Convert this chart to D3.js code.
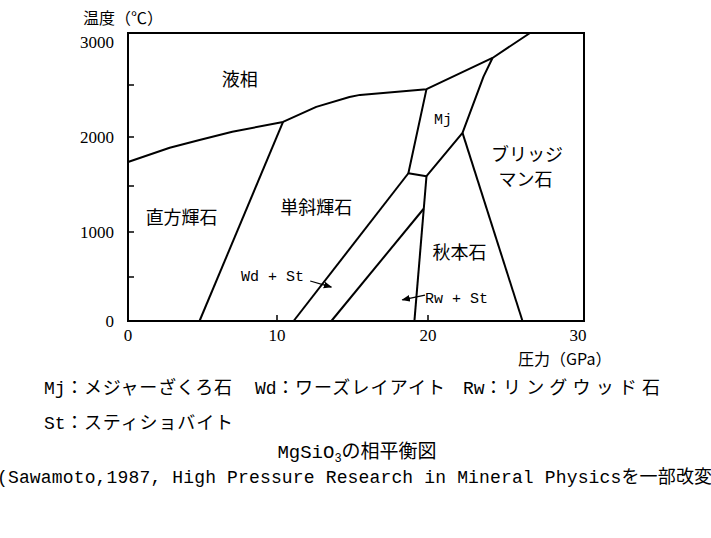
<!DOCTYPE html>
<html>
<head>
<meta charset="utf-8">
<script src="https://cdn.jsdelivr.net/npm/d3@7/dist/d3.min.js"></script>
<style>
  body { margin: 0; background: #fff; }
  .jp   { font-family: "Noto Sans CJK JP", sans-serif; }
  .num  { font-family: "Liberation Serif", serif; }
  .mono { font-family: "Liberation Mono", "Noto Sans CJK JP", monospace; }
</style>
</head>
<body>
<div id="chart"></div>
<script>

/******************************************************************************/
/*  Data (pressure GPa, temperature C)                                        */
/******************************************************************************/

var xTicks  = [0, 10, 20, 30];
var yTicks  = [0, 1000, 2000, 3000];
var yMinor  = [500, 1500, 2500];

// phase boundaries
var liquidus    = [[0,1745],[2.8,1890],[4.8,1970],[7.0,2050],[10.4,2145],[12.6,2290],
                   [14.8,2385],[15.5,2405],[19.9,2460],[24.3,2760],[26.8,3000]];
var opxCpx      = [[10.4,2145],[4.8,0]];
var mjLeft      = [[19.9,2460],[18.7,1630],[19.9,1600],[22.3,2040],[23.7,2580],[24.3,2760]];
var cpxWdSt     = [[18.7,1630],[11.1,0]];
var wdStRwSt    = [[19.7,1250],[13.6,0]];
var rwStAki     = [[19.9,1600],[19.1,0]];
var akiBrg      = [[22.3,2040],[26.3,0]];
var boundaries  = [liquidus, opxCpx, mjLeft, cpxWdSt, wdStRwSt, rwStAki, akiBrg];

// field labels
var fieldNames  = ['液相', 'Mj', 'ブリッジ', 'マン石', '直方輝石', '単斜輝石', '秋本石', 'Wd + St', 'Rw + St'];
var fieldPos    = [[7.5,2550],[21.0,2180],[26.6,1815],[26.5,1560],[3.6,1150],[12.6,1260],[22.1,765],[9.7,520],[21.9,270]];

// arrows
var arrows      = [ [[12.2,455],[13.6,385]], [[19.8,295],[18.3,240]] ];

var legendKeys  = ['Mj：', 'Wd：', 'Rw：', 'St：'];
var legendDesc  = ['メジャーざくろ石', 'ワーズレイアイト', 'リングウッド石', 'スティショバイト'];
var title       = 'MgSiO';
var caption     = '(Sawamoto,1987, High Pressure Research in Mineral Physicsを一部改変)';


/******************************************************************************/
/*  Chart                                                                     */
/******************************************************************************/

var svg = d3.select('#chart')
  .append('svg')
    .attr('width',  711)
    .attr('height', 538)

var x = d3.scaleLinear().domain([0, 10, 20, 30]).range([128, 277, 428, 578]);
var y = d3.scaleLinear().domain([0, 500, 1000, 1500, 2000, 2500, 3000])
                        .range([321, 277, 232, 186, 137, 85, 33]);

var line = d3.line().x(function(d){ return x(d[0]); }).y(function(d){ return y(d[1]); });

svg.append('defs').append('marker')
    .attr('id', 'head')
    .attr('viewBox', '0 0 10 10')
    .attr('refX', 9).attr('refY', 5)
    .attr('markerWidth', 7).attr('markerHeight', 7)
    .attr('orient', 'auto')
  .append('path')
    .attr('d', 'M0,1 L10,5 L0,9 Z')
    .attr('fill', '#000')

// Frame
svg.append('rect')
    .attr('x', 128).attr('y', 33)
    .attr('width', 584 - 128).attr('height', 321 - 33)
    .attr('fill', 'none').attr('stroke', '#000').attr('stroke-width', 2)

// Inward ticks
svg.selectAll('.ytick').data(yMinor.concat([1000, 2000]))
  .enter().append('line')
    .attr('x1', x(0)).attr('x2', x(0) + 6)
    .attr('y1', function(d){ return y(d); }).attr('y2', function(d){ return y(d); })
    .attr('stroke', '#000').attr('stroke-width', 1.5)

svg.selectAll('.xtick').data([10, 20])
  .enter().append('line')
    .attr('x1', function(d){ return x(d); }).attr('x2', function(d){ return x(d); })
    .attr('y1', y(0)).attr('y2', y(0) - 6)
    .attr('stroke', '#000').attr('stroke-width', 1.5)

// Tick labels
svg.selectAll('.ylab').data(yTicks)
  .enter().append('text')
    .attr('class', 'num')
    .attr('x', 114)
    .attr('y', function(d){ return d == 3000 ? 48 : y(d) + 6; })
    .attr('text-anchor', 'end')
    .attr('font-size', 17)
    .text(function(d){ return d; })

svg.selectAll('.xlab').data(xTicks)
  .enter().append('text')
    .attr('class', 'num')
    .attr('x', function(d){ return x(d); })
    .attr('y', 341)
    .attr('text-anchor', 'middle')
    .attr('font-size', 17)
    .text(function(d){ return d; })

// Axis titles
svg.append('text').attr('class', 'jp')
    .attr('x', 83).attr('y', 24).attr('font-size', 16)
    .text('温度（℃）')

svg.append('text').attr('class', 'jp')
    .attr('x', 518).attr('y', 365).attr('font-size', 16)
    .text('圧力（GPa）')

// Boundaries
svg.selectAll('.bnd').data(boundaries)
  .enter().append('path')
    .attr('d', line)
    .attr('fill', 'none')
    .attr('stroke', '#000')
    .attr('stroke-width', 2)
    .attr('stroke-linejoin', 'round')

// Arrows
svg.selectAll('.arr').data(arrows)
  .enter().append('path')
    .attr('d', line)
    .attr('fill', 'none')
    .attr('stroke', '#000')
    .attr('stroke-width', 1.2)
    .attr('marker-end', 'url(#head)')

// Field labels
svg.selectAll('.field').data(fieldNames)
  .enter().append('text')
    .attr('class', function(d){ return /^[A-Z]/.test(d) ? 'mono' : 'jp'; })
    .attr('x', function(d, i){ return x(fieldPos[i][0]); })
    .attr('y', function(d, i){ return y(fieldPos[i][1]) + 6; })
    .attr('text-anchor', 'middle')
    .attr('font-size', function(d){ return /^[A-Z]/.test(d) ? 15 : 18; })
    .text(function(d){ return d; })

// Legend: key then description
var legX   = [44, 255, 463, 44],
    legY   = [394, 394, 394, 429],
    legEnd = [232, 445, 660, 233];

svg.selectAll('.legkey').data(legendKeys)
  .enter().append('text')
    .attr('class', 'mono')
    .attr('x', function(d, i){ return legX[i]; })
    .attr('y', function(d, i){ return legY[i]; })
    .attr('font-size', 18)
    .text(function(d){ return d; })

svg.selectAll('.legdesc').data(legendDesc)
  .enter().append('text')
    .attr('class', 'jp')
    .attr('x', function(d, i){ return legX[i] + 40; })
    .attr('y', function(d, i){ return legY[i]; })
    .attr('font-size', 18)
    .attr('textLength', function(d, i){ return legEnd[i] - legX[i] - 40; })
    .attr('lengthAdjust', 'spacing')
    .text(function(d){ return d; })

// Title
var t = svg.append('text').attr('class', 'mono')
    .attr('x', 357).attr('y', 458).attr('font-size', 19)
    .attr('text-anchor', 'middle')
t.append('tspan').text(title)
t.append('tspan').attr('font-size', 12).attr('dy', 4).text('3')
t.append('tspan').attr('dy', -4).text('の相平衡図')

// Caption
svg.append('text').attr('class', 'mono')
    .attr('x', 360).attr('y', 483).attr('font-size', 18)
    .attr('text-anchor', 'middle')
    .attr('textLength', 726).attr('lengthAdjust', 'spacing')
    .text(caption)

</script>
</body>
</html>
